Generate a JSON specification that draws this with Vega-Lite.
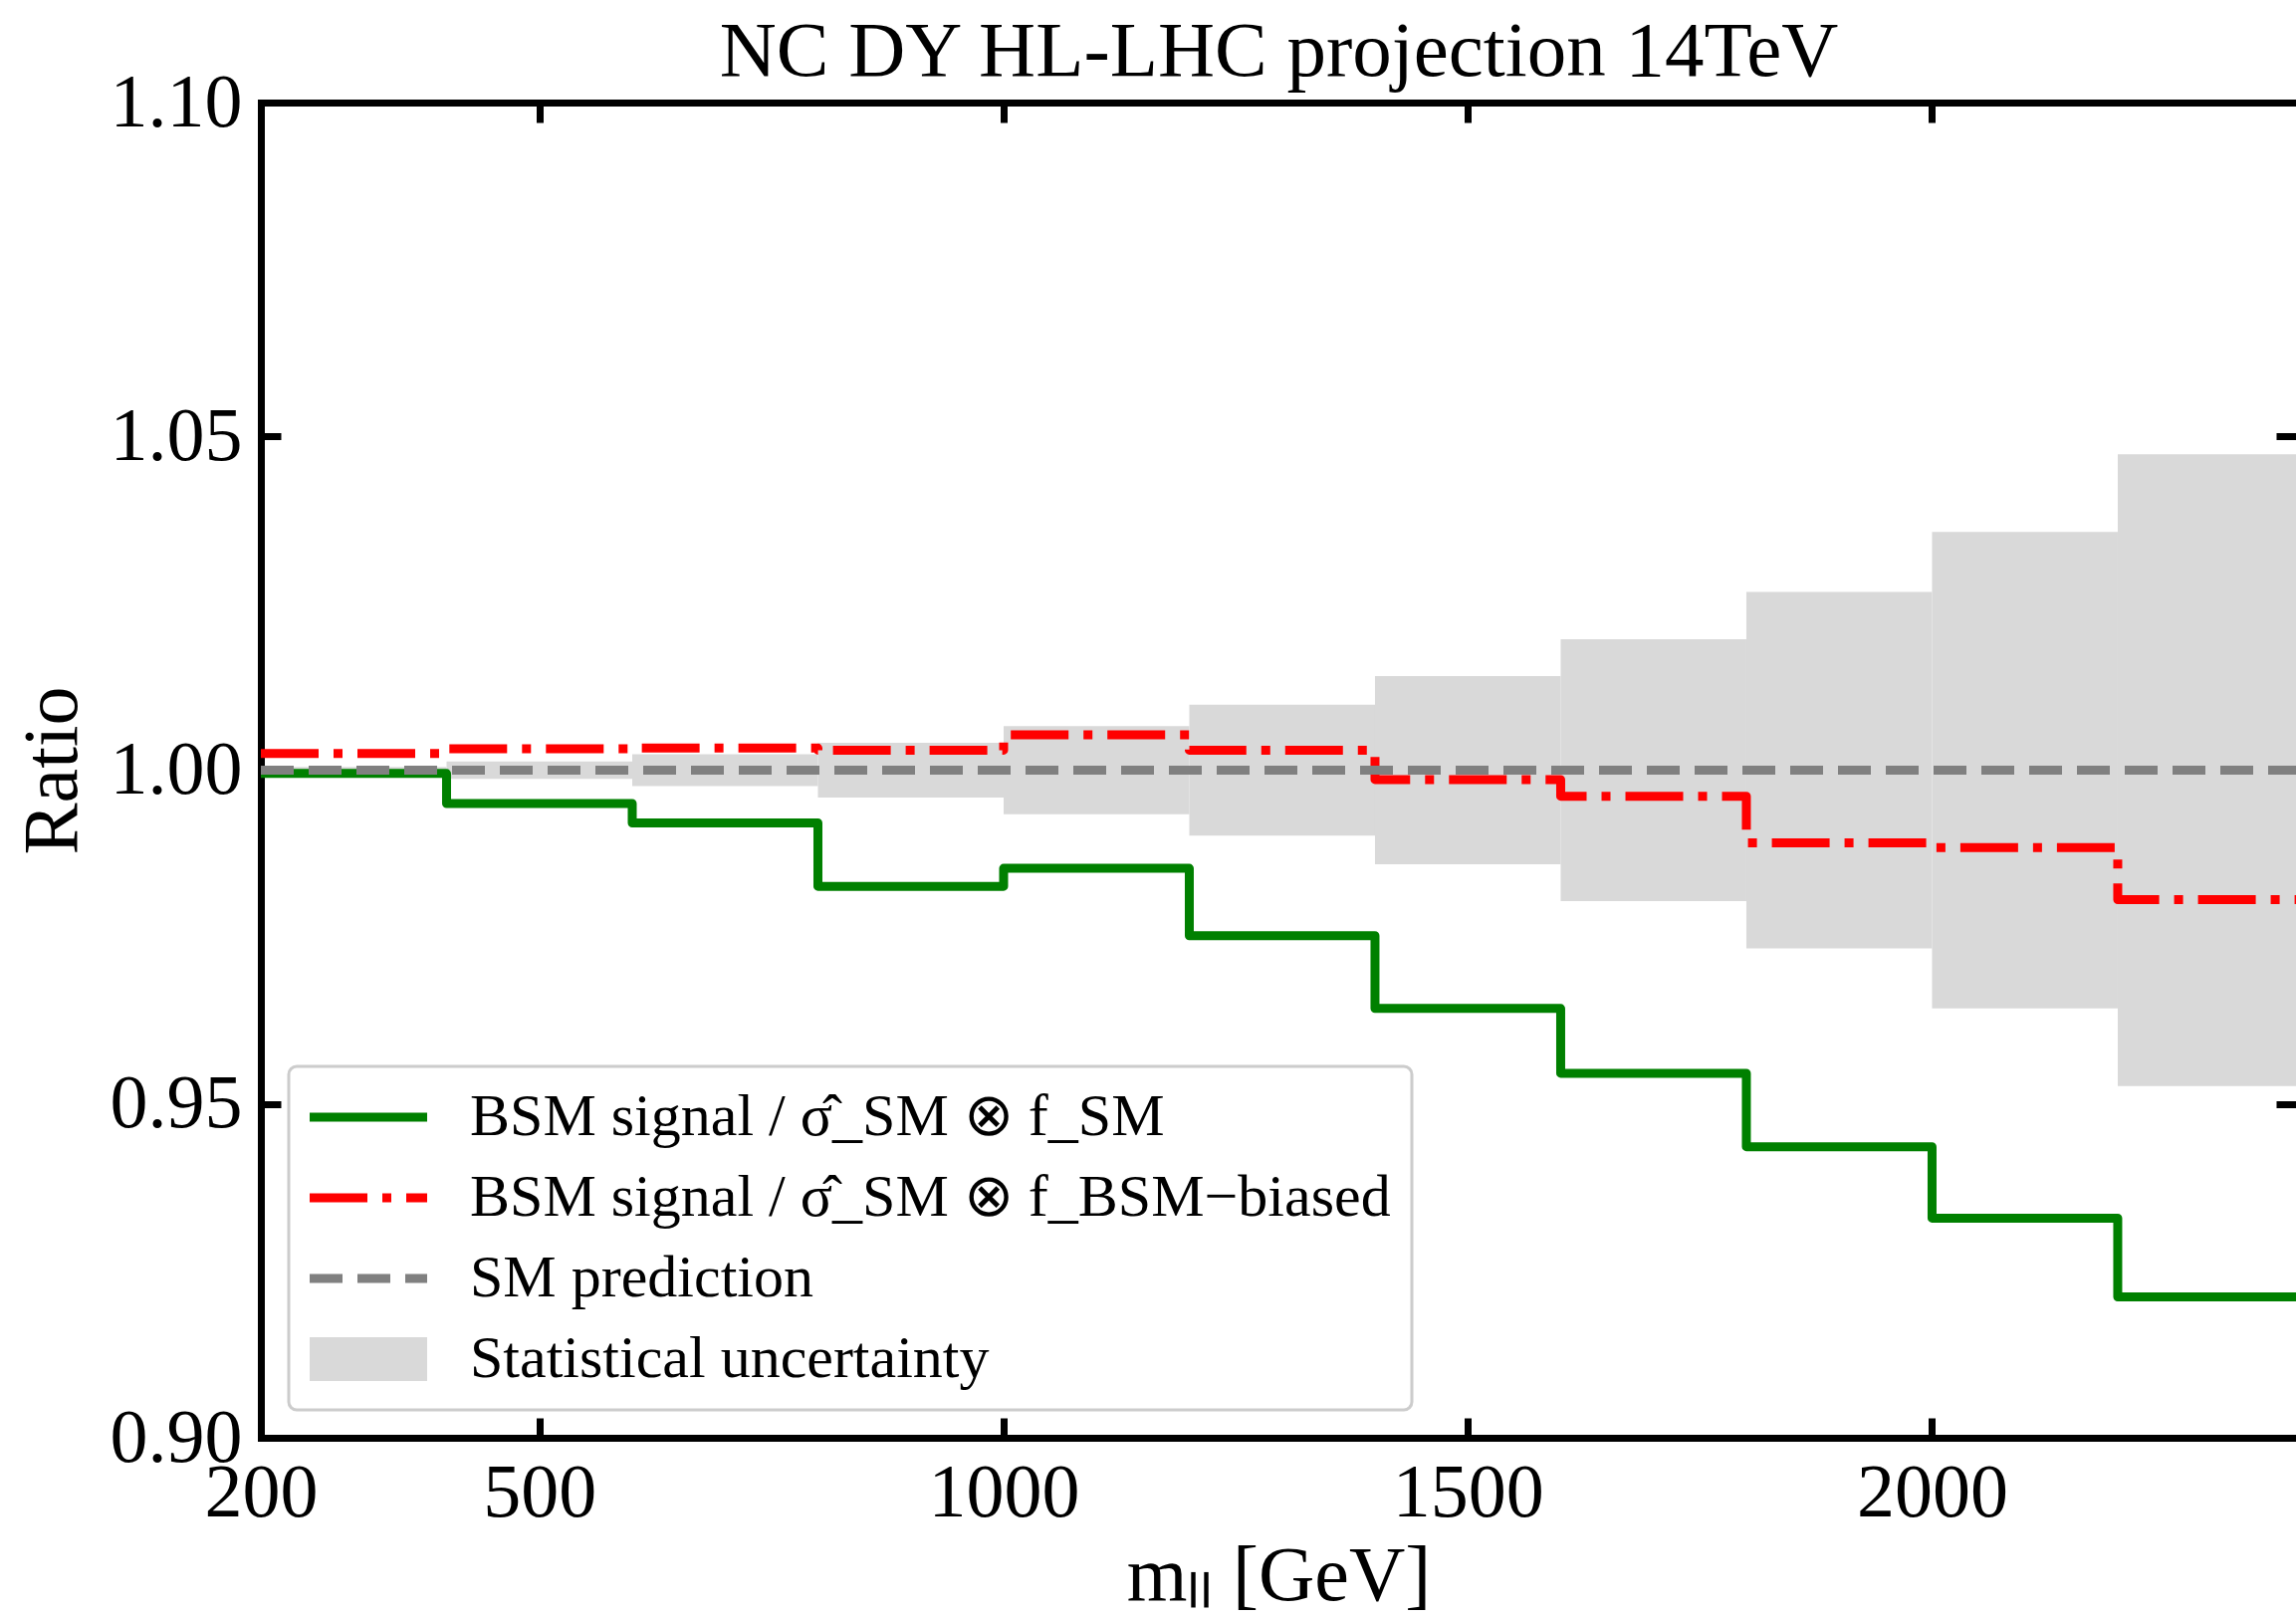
{
  "$schema": "https://vega.github.io/schema/vega-lite/v6.json",
  "width": 2044,
  "height": 1341,
  "autosize": {"type": "none"},
  "padding": {"left": 262, "top": 103, "right": 0, "bottom": 181},
  "background": "white",
  "config": {
    "view": {"stroke": null},
    "axis": {"grid": false}
  },
  "datasets": {
    "band": [
      {"series": "Statistical uncertainty", "lo": 200, "hi": 400, "down": 0.9995, "up": 1.0005},
      {"series": "Statistical uncertainty", "lo": 400, "hi": 600, "down": 0.9987, "up": 1.0013},
      {"series": "Statistical uncertainty", "lo": 600, "hi": 800, "down": 0.9976, "up": 1.0024},
      {"series": "Statistical uncertainty", "lo": 800, "hi": 1000, "down": 0.9959, "up": 1.0041},
      {"series": "Statistical uncertainty", "lo": 1000, "hi": 1200, "down": 0.9934, "up": 1.0066},
      {"series": "Statistical uncertainty", "lo": 1200, "hi": 1400, "down": 0.9902, "up": 1.0098},
      {"series": "Statistical uncertainty", "lo": 1400, "hi": 1600, "down": 0.9859, "up": 1.0141},
      {"series": "Statistical uncertainty", "lo": 1600, "hi": 1800, "down": 0.9804, "up": 1.0196},
      {"series": "Statistical uncertainty", "lo": 1800, "hi": 2000, "down": 0.9733, "up": 1.0267},
      {"series": "Statistical uncertainty", "lo": 2000, "hi": 2200, "down": 0.9643, "up": 1.0357},
      {"series": "Statistical uncertainty", "lo": 2200, "hi": 2400, "down": 0.9527, "up": 1.0473}
    ],
    "green": [
      {"series": "BSM signal / σ̂_SM ⊗ f_SM", "m": 200, "ratio": 0.9995},
      {"series": "BSM signal / σ̂_SM ⊗ f_SM", "m": 400, "ratio": 0.9950},
      {"series": "BSM signal / σ̂_SM ⊗ f_SM", "m": 600, "ratio": 0.9921},
      {"series": "BSM signal / σ̂_SM ⊗ f_SM", "m": 800, "ratio": 0.9826},
      {"series": "BSM signal / σ̂_SM ⊗ f_SM", "m": 1000, "ratio": 0.9853},
      {"series": "BSM signal / σ̂_SM ⊗ f_SM", "m": 1200, "ratio": 0.9752},
      {"series": "BSM signal / σ̂_SM ⊗ f_SM", "m": 1400, "ratio": 0.9643},
      {"series": "BSM signal / σ̂_SM ⊗ f_SM", "m": 1600, "ratio": 0.9546},
      {"series": "BSM signal / σ̂_SM ⊗ f_SM", "m": 1800, "ratio": 0.9436},
      {"series": "BSM signal / σ̂_SM ⊗ f_SM", "m": 2000, "ratio": 0.9329},
      {"series": "BSM signal / σ̂_SM ⊗ f_SM", "m": 2200, "ratio": 0.9211},
      {"series": "BSM signal / σ̂_SM ⊗ f_SM", "m": 2400, "ratio": 0.9211}
    ],
    "red": [
      {"series": "BSM signal / σ̂_SM ⊗ f_BSM−biased", "m": 200, "ratio": 1.0025},
      {"series": "BSM signal / σ̂_SM ⊗ f_BSM−biased", "m": 400, "ratio": 1.0032},
      {"series": "BSM signal / σ̂_SM ⊗ f_BSM−biased", "m": 600, "ratio": 1.0033},
      {"series": "BSM signal / σ̂_SM ⊗ f_BSM−biased", "m": 800, "ratio": 1.0030},
      {"series": "BSM signal / σ̂_SM ⊗ f_BSM−biased", "m": 1000, "ratio": 1.0053},
      {"series": "BSM signal / σ̂_SM ⊗ f_BSM−biased", "m": 1200, "ratio": 1.0030},
      {"series": "BSM signal / σ̂_SM ⊗ f_BSM−biased", "m": 1400, "ratio": 0.9986},
      {"series": "BSM signal / σ̂_SM ⊗ f_BSM−biased", "m": 1600, "ratio": 0.9961},
      {"series": "BSM signal / σ̂_SM ⊗ f_BSM−biased", "m": 1800, "ratio": 0.9891},
      {"series": "BSM signal / σ̂_SM ⊗ f_BSM−biased", "m": 2000, "ratio": 0.9884},
      {"series": "BSM signal / σ̂_SM ⊗ f_BSM−biased", "m": 2200, "ratio": 0.9806},
      {"series": "BSM signal / σ̂_SM ⊗ f_BSM−biased", "m": 2400, "ratio": 0.9806}
    ],
    "sm": [
      {"series": "SM prediction", "m": 200, "ratio": 1.0},
      {"series": "SM prediction", "m": 2400, "ratio": 1.0}
    ]
  },
  "layer": [
    {
      "data": {"name": "band"},
      "mark": {"type": "rect", "clip": true},
      "encoding": {
        "x": {
          "field": "lo", "type": "quantitative",
          "scale": {"domain": [200, 2392], "nice": false, "zero": false},
          "axis": {
            "orient": "bottom", "values": [200, 500, 1000, 1500, 2000], "format": "d",
            "title": "mₗₗ [GeV]",
            "labelFont": "Liberation Serif", "labelFontSize": 76, "labelColor": "black",
            "labelPadding": 38, "labelFlush": false, "labelOverlap": false,
            "tickSize": -20, "tickWidth": 7, "tickColor": "black",
            "domainWidth": 7, "domainColor": "black", "domainCap": "square",
            "titleFont": "Liberation Serif", "titleFontSize": 78, "titleFontWeight": "normal",
            "titleColor": "black", "titlePadding": 7
          }
        },
        "x2": {"field": "hi"},
        "y": {
          "field": "down", "type": "quantitative",
          "scale": {"domain": [0.9, 1.1], "nice": false, "zero": false},
          "axis": {
            "orient": "left", "values": [0.9, 0.95, 1.0, 1.05, 1.1], "format": ".2f",
            "title": "Ratio",
            "labelFont": "Liberation Serif", "labelFontSize": 76, "labelColor": "black",
            "labelPadding": 39, "labelFlush": false, "labelOverlap": false,
            "tickSize": -20, "tickWidth": 7, "tickColor": "black",
            "domainWidth": 7, "domainColor": "black", "domainCap": "square",
            "titleFont": "Liberation Serif", "titleFontSize": 78, "titleFontWeight": "normal",
            "titleColor": "black", "titlePadding": 18
          }
        },
        "y2": {"field": "up"},
        "color": {
          "field": "series", "type": "nominal",
          "scale": {
            "domain": ["BSM signal / σ̂_SM ⊗ f_SM", "BSM signal / σ̂_SM ⊗ f_BSM−biased", "SM prediction", "Statistical uncertainty"],
            "range": ["#008000", "#ff0000", "#808080", "#d9d9d9"]
          },
          "legend": {
            "title": null, "orient": "bottom-left", "offset": 28,
            "padding": 21, "cornerRadius": 8,
            "strokeColor": "#cccccc", "fillColor": "rgba(255,255,255,0.8)",
            "labelFont": "Liberation Serif", "labelFontSize": 60, "labelColor": "black", "labelLimit": 2000,
            "symbolSize": 3600, "symbolOffset": 29, "labelOffset": 72, "rowPadding": 21,
            "symbolStrokeWidth": 9,
            "encode": {
              "legend": {"update": {"strokeWidth": {"value": 3}}},
              "symbols": {
                "update": {
                  "shape": {"signal": "datum.value === 'Statistical uncertainty' ? 'M-1,-0.373H1V0.373H-1Z' : 'stroke'"},
                  "size": {"value": 13924},
                  "stroke": {"signal": "datum.value === 'Statistical uncertainty' ? 'transparent' : scale('color', datum.value)"},
                  "fill": {"signal": "datum.value === 'Statistical uncertainty' ? '#d9d9d9' : 'transparent'"},
                  "strokeWidth": {"signal": "datum.value === 'Statistical uncertainty' ? 0 : 9"},
                  "strokeDash": {"signal": "datum.value === 'SM prediction' ? [33,15] : (indexof(datum.value, 'biased') >= 0 ? [58,15,9,15] : [])"},
                  "opacity": {"value": 1}
                }
              }
            }
          }
        }
      }
    },
    {
      "data": {"name": "green"},
      "mark": {"type": "line", "interpolate": "step-after", "strokeWidth": 9, "strokeJoin": "round", "clip": true},
      "encoding": {
        "x": {"field": "m", "type": "quantitative", "axis": null},
        "y": {"field": "ratio", "type": "quantitative", "axis": null},
        "color": {"field": "series", "type": "nominal"}
      }
    },
    {
      "data": {"name": "red"},
      "mark": {"type": "line", "interpolate": "step-after", "strokeWidth": 9, "strokeJoin": "round", "strokeCap": "butt", "strokeDash": [58, 15, 9, 15], "clip": true},
      "encoding": {
        "x": {"field": "m", "type": "quantitative", "axis": null},
        "y": {"field": "ratio", "type": "quantitative", "axis": null},
        "color": {"field": "series", "type": "nominal"}
      }
    },
    {
      "data": {"name": "sm"},
      "mark": {"type": "line", "strokeWidth": 9, "strokeCap": "butt", "strokeDash": [33, 15], "clip": true},
      "encoding": {
        "x": {
          "field": "m", "type": "quantitative",
          "axis": {
            "orient": "top", "values": [200, 500, 1000, 1500, 2000], "labels": false,
            "title": "NC DY HL-LHC projection 14TeV",
            "titleFont": "Liberation Serif", "titleFontSize": 79, "titleFontWeight": "normal",
            "titleColor": "black", "titlePadding": 7,
            "tickSize": -20, "tickWidth": 7, "tickColor": "black",
            "domainWidth": 7, "domainColor": "black", "domainCap": "square"
          }
        },
        "y": {
          "field": "ratio", "type": "quantitative",
          "axis": {
            "orient": "right", "values": [0.9, 0.95, 1.0, 1.05, 1.1], "labels": false, "title": null,
            "tickSize": -20, "tickWidth": 7, "tickColor": "black", "domain": false
          }
        },
        "color": {"field": "series", "type": "nominal"}
      }
    }
  ],
  "resolve": {"axis": {"x": "independent", "y": "independent"}}
}
